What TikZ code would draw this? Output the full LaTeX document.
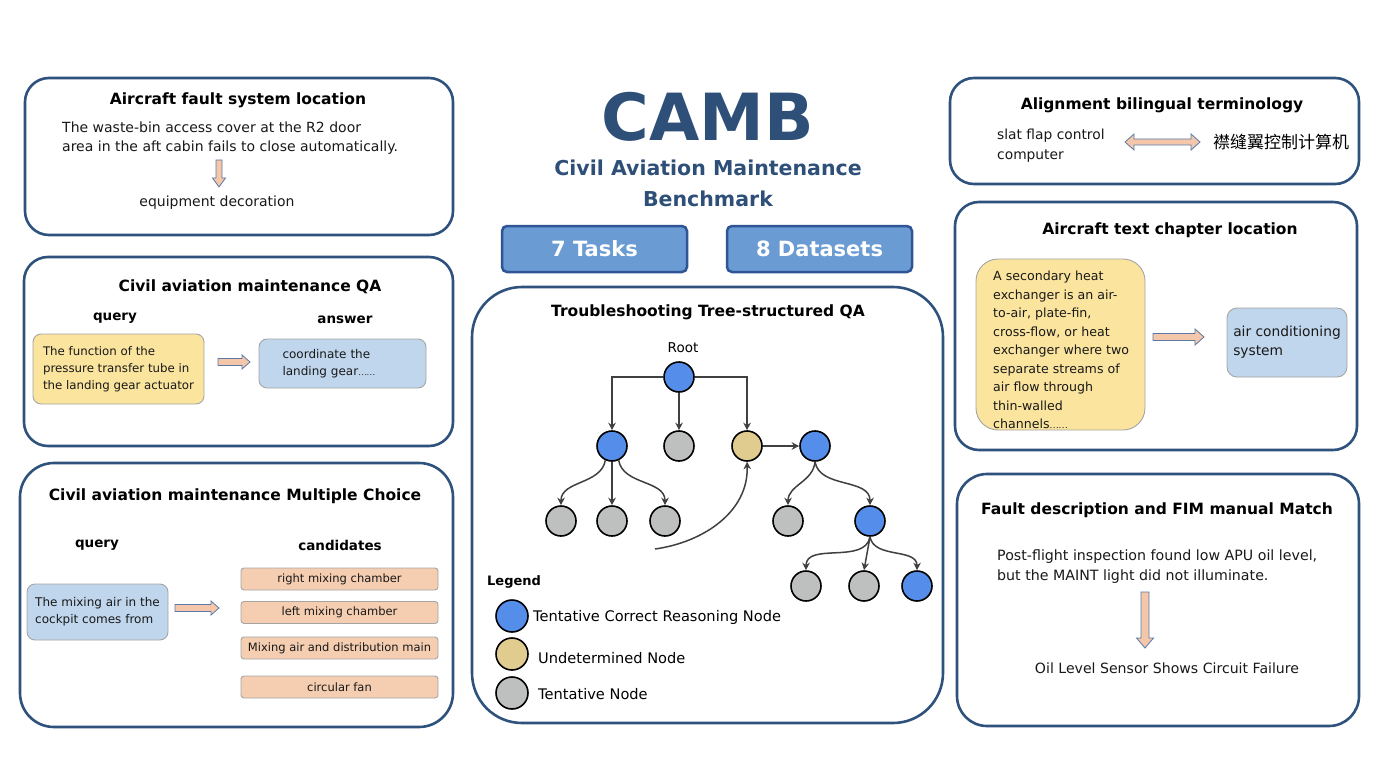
\documentclass[tikz,border=0pt]{standalone}
\usepackage{fontspec}
\setmainfont{DejaVu Sans}
\newfontfamily\cjk{Noto Sans CJK SC}
\usetikzlibrary{arrows.meta}
\definecolor{panelblue}{RGB}{47,82,125}
\definecolor{titleblue}{RGB}{45,79,120}
\definecolor{yellowbox}{RGB}{250,228,158}
\definecolor{bluebox}{RGB}{192,214,236}
\definecolor{peach}{RGB}{245,205,176}
\definecolor{boxgray}{RGB}{165,165,165}
\definecolor{arrowfill}{RGB}{244,199,170}
\definecolor{arrowline}{RGB}{90,120,165}
\definecolor{btnfill}{RGB}{106,155,210}
\definecolor{btnborder}{RGB}{47,85,151}
\definecolor{nblue}{RGB}{84,141,234}
\definecolor{nyellow}{RGB}{224,204,143}
\definecolor{ngray}{RGB}{190,191,191}
\definecolor{edgegray}{RGB}{64,64,64}
\newcommand\fsz[2]{\fontsize{#1pt}{#2pt}\selectfont}
\newcommand\blkR[6]{\draw[barrow] (#1,{#3-#4}) -- ({#2-#6},{#3-#4}) -- ({#2-#6},{#3-#5}) -- (#2,#3) -- ({#2-#6},{#3+#5}) -- ({#2-#6},{#3+#4}) -- (#1,{#3+#4}) -- cycle;}
\newcommand\blkD[6]{\draw[barrow] ({#1-#4},#2) -- ({#1+#4},#2) -- ({#1+#4},{#3-#6}) -- ({#1+#5},{#3-#6}) -- (#1,#3) -- ({#1-#5},{#3-#6}) -- ({#1-#4},{#3-#6}) -- cycle;}
\newcommand\blkLR[6]{\draw[barrow] ({#1+#6},{#3-#4}) -- ({#2-#6},{#3-#4}) -- ({#2-#6},{#3-#5}) -- (#2,#3) -- ({#2-#6},{#3+#5}) -- ({#2-#6},{#3+#4}) -- ({#1+#6},{#3+#4}) -- ({#1+#6},{#3+#5}) -- (#1,#3) -- ({#1+#6},{#3-#5}) -- cycle;}
\tikzset{
  panel/.style={draw=panelblue, line width=2.6pt, rounded corners=#1},
  panel/.default=24pt,
  ttl/.style={font=\bfseries\fsz{15.5}{19}, text=black, inner sep=0},
  body/.style={font=\fsz{14}{19.5}, text=black!90, inner sep=0, align=left},
  lbl/.style={font=\bfseries\fsz{13.5}{17}, text=black, inner sep=0},
  sbox/.style={draw=boxgray, line width=0.9pt, rounded corners=#1, inner sep=0, text=black!90},
  sbox/.default=8pt,
  cand/.style={draw=boxgray, fill=peach, line width=0.9pt, rounded corners=3pt, minimum width=197pt, minimum height=22pt, font=\fsz{11.5}{14}, inner sep=0, text=black!90},
  barrow/.style={draw=arrowline, fill=arrowfill, line width=0.8pt, line join=miter},
  btn/.style={draw=btnborder, fill=btnfill, line width=2.5pt, rounded corners=5pt, minimum width=185pt, minimum height=46pt, text=white, font=\bfseries\fsz{21}{26}},
  tn/.style={circle, draw=black, line width=1.6pt, minimum size=30pt, inner sep=0},
  ln/.style={circle, draw=black, line width=1.6pt, minimum size=32pt, inner sep=0},
  edge/.style={draw=edgegray, line width=1.5pt, -{Stealth[length=7.5pt,width=7.5pt]}},
}
\begin{document}
\begin{tikzpicture}[x=1pt,y=-1pt]
\useasboundingbox (0,0) rectangle (1396,770);
\fill[white] (0,0) rectangle (1396,770);

% ---- Panel 1
\draw[panel] (25,78) rectangle (453,235);
\node[ttl] (t1) at (238,100) {Aircraft fault system location};
\node[body, anchor=west] (f1) at (62,138) {The waste-bin access cover at the R2 door\\area in the aft cabin fails to close automatically.};
\blkD{219}{160}{187}{3}{6.5}{9}
\node[body] (f1a) at (217,203) {equipment decoration};

% ---- Panel 2
\draw[panel] (24,257) rectangle (453,446);
\node[ttl] (t2) at (250,287) {Civil aviation maintenance QA};
\node[lbl] (ql2) at (115,318) {query};
\node[lbl] (al2) at (345,320) {answer};
\node[sbox, fill=yellowbox, minimum width=171pt, minimum height=70pt, align=left, font=\fsz{11.8}{17}] (q2) at (118.5,369) {The function of the\\pressure transfer tube in\\the landing gear actuator};
\blkR{218}{250}{362}{3.5}{7}{8}
\node[sbox, fill=bluebox, minimum height=49pt, text width=120pt, inner xsep=23.5pt, align=left, font=\fsz{12}{17}] (a2) at (342.5,363.5) {coordinate the\\landing gear{\cjk\fsz{8}{10}……}};

% ---- Panel 3
\draw[panel=34pt] (20,463) rectangle (453,727);
\node[ttl] (t3) at (235,496) {Civil aviation maintenance Multiple Choice};
\node[lbl] (ql3) at (97,545) {query};
\node[lbl] (cl3) at (340,545) {candidates};
\node[sbox, fill=bluebox, minimum width=141pt, minimum height=56pt, align=left, font=\fsz{12}{17}] (q3) at (97.5,612) {The mixing air in the\\cockpit comes from};
\blkR{175}{219}{608}{3.5}{7}{8}
\node[cand] (c1) at (339.5,579) {right mixing chamber};
\node[cand] (c2) at (339.5,612.5) {left mixing chamber};
\node[cand] (c3) at (339.5,648) {Mixing air and distribution main};
\node[cand] (c4) at (339.5,687) {circular fan};

% ---- Centre title
\node[font=\bfseries\fsz{65}{65}, text=titleblue, inner sep=0] (camb) at (708,117) {CAMB};
\node[font=\bfseries\fsz{20.5}{31}, text=titleblue, align=center, inner sep=0] (sub) at (708,183) {Civil Aviation Maintenance\\Benchmark};
\node[btn] (tasks) at (594.5,249) {7 Tasks};
\node[btn] (data) at (819.5,249) {8 Datasets};

% ---- Panel 4 (tree)
\draw[panel=50pt] (472,287) rectangle (943,723);
\node[ttl] (t4) at (708,312) {Troubleshooting Tree-structured QA};
\node[font=\fsz{13.5}{17}, inner sep=0] (rootl) at (683,348) {Root};
\node[tn, fill=nblue] (root) at (679,377) {};
\node[tn, fill=nblue] (A) at (612,446) {};
\node[tn, fill=ngray] (B) at (679,446) {};
\node[tn, fill=nyellow] (C) at (747,446) {};
\node[tn, fill=nblue] (D) at (815,446) {};
\node[tn, fill=ngray] (a1) at (561,521) {};
\node[tn, fill=ngray] (a2n) at (612,521) {};
\node[tn, fill=ngray] (a3) at (665,521) {};
\node[tn, fill=ngray] (d1) at (788,521) {};
\node[tn, fill=nblue] (E) at (870,521) {};
\node[tn, fill=ngray] (e1) at (806,586) {};
\node[tn, fill=ngray] (e2) at (864,586) {};
\node[tn, fill=nblue] (e3) at (917,586) {};
\coordinate (cs) at (655,549);
\draw[edge] (root.west) -| (A.north);
\draw[edge] (root) -- (B);
\draw[edge] (root.east) -| (C.north);
\draw[edge] (C) -- (D);
\draw[edge] (A.-115) to[out=-100,in=90] (a1.north);
\draw[edge] (A) -- (a2n);
\draw[edge] (A.-65) to[out=-80,in=90] (a3.north);
\draw[edge] (D.south) to[out=-95,in=90] (d1.north);
\draw[edge] (D.south) to[out=-80,in=90] (E.north);
\draw[edge] (E.south) to[out=-100,in=90] (e1.north);
\draw[edge] (E.south) -- (e2.north);
\draw[edge] (E.south) to[out=-80,in=90] (e3.north);
\draw[edge] (cs) to[out=8,in=-88] (C.south);
\node[font=\bfseries\fsz{13}{17}, inner sep=0, anchor=west] (leg) at (487,582) {Legend};
\node[ln, fill=nblue] (l1) at (512,616) {};
\node[font=\fsz{14.6}{17}, inner sep=0, anchor=west] (l1t) at (533,617) {Tentative Correct Reasoning Node};
\node[ln, fill=nyellow] (l2) at (512,654) {};
\node[font=\fsz{14.6}{17}, inner sep=0, anchor=west] (l2t) at (538,658) {Undetermined Node};
\node[ln, fill=ngray] (l3) at (512,693) {};
\node[font=\fsz{14.6}{17}, inner sep=0, anchor=west] (l3t) at (538,694) {Tentative Node};

% ---- Panel 5
\draw[panel] (950,78) rectangle (1359,184);
\node[ttl] (t5) at (1162,105) {Alignment bilingual terminology};
\node[body, anchor=west, font=\fsz{13.8}{20}] (en5) at (997,146) {slat flap control\\computer};
\blkLR{1125}{1200}{142}{3}{8}{9}
\node[font=\cjk\fsz{17}{20}, inner sep=0] (zh5) at (1281,142) {襟缝翼控制计算机};

% ---- Panel 6
\draw[panel] (955,202) rectangle (1357,450);
\node[ttl] (t6) at (1170,230) {Aircraft text chapter location};
\node[sbox=22pt, fill=yellowbox, minimum width=169pt, minimum height=171pt] (q6box) at (1060.5,344.5) {};
\node[anchor=north west, inner sep=0, align=left, font=\fsz{12.6}{18.5}, text=black!90] (q6) at (993,271) {A secondary heat\\exchanger is an air-\\to-air, plate-fin,\\cross-flow, or heat\\exchanger where two\\separate streams of\\air flow through\\thin-walled\\channels{\cjk\fsz{8.5}{10}……}};
\blkR{1153}{1204}{337}{3.5}{8}{9}
\node[sbox=10pt, fill=bluebox, minimum width=120pt, minimum height=69pt, align=left, font=\fsz{13.8}{19}] (a6) at (1287,342.5) {air conditioning\\system};

% ---- Panel 7
\draw[panel=30pt] (957,474) rectangle (1359,726);
\node[ttl] (t7) at (1157,510) {Fault description and FIM manual Match};
\node[body, anchor=west, font=\fsz{14.2}{20}] (f7) at (997,567) {Post-flight inspection found low APU oil level,\\but the MAINT light did not illuminate.};
\blkD{1145}{592}{648}{4}{8.5}{10}
\node[body, font=\fsz{14.1}{17}] (r7) at (1167,668) {Oil Level Sensor Shows Circuit Failure};
\end{tikzpicture}
\end{document}
